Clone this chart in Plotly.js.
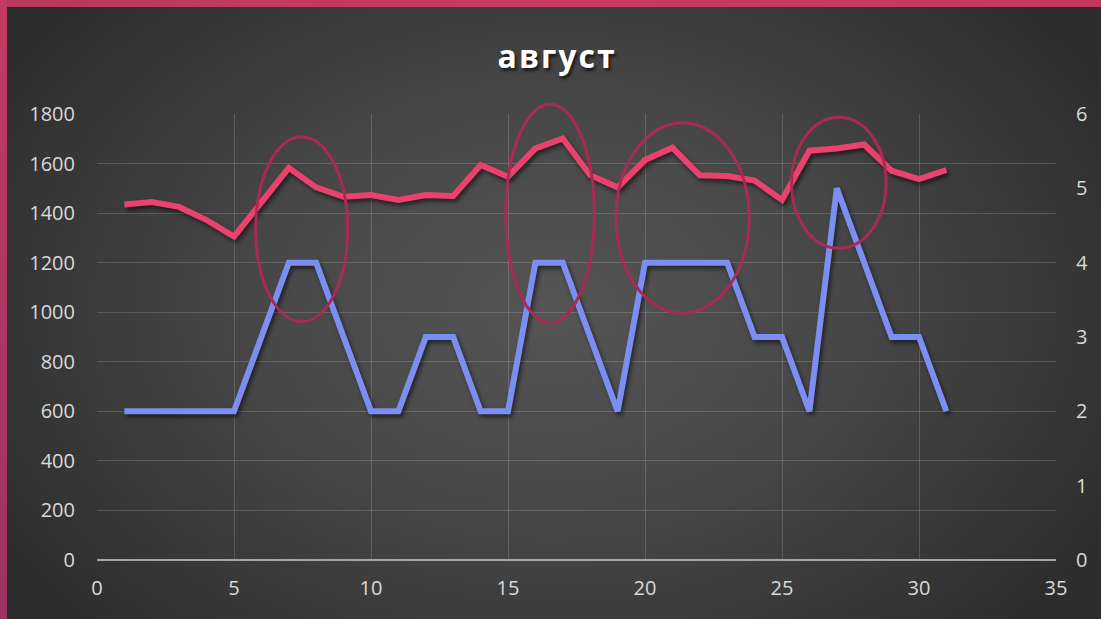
<!DOCTYPE html>
<html>
<head>
<meta charset="utf-8">
<script src="https://cdn.plot.ly/plotly-3.0.1.min.js"></script>
<style>
  html, body { margin: 0; padding: 0; }
  body {
    width: 1101px; height: 619px; overflow: hidden; position: relative;
    background: radial-gradient(ellipse 60% 75% at 50% 50%, #555555 0%, #474747 45%, #2c2c2c 100%);
  }
  #plot { position: absolute; left: 0; top: 0; width: 1101px; height: 619px; }
  .frame-top { position: absolute; left: 0; top: 0; width: 1101px; height: 7px; background: linear-gradient(90deg, #b8385f, #c93b66 50%, #c2375f); }
  .frame-left { position: absolute; left: 0; top: 0; width: 7px; height: 619px; background: linear-gradient(180deg, #c23a63, #9c3362); }
  .js-line { filter: drop-shadow(2px 3px 2px rgba(0,0,0,0.55)); }
  .gtitle { text-shadow: 2px 3px 3px rgba(0,0,0,0.6); letter-spacing: 2px; }
</style>
</head>
<body>
<div id="plot"></div>
<div class="frame-top"></div>
<div class="frame-left"></div>
<script>
// days of August
var days = [];
for (var d = 1; d <= 31; d++) days.push(d);

// left axis series (pink)
var pinkValues = [1435, 1445, 1425, 1372, 1305, 1440, 1583, 1504, 1466, 1473,
                  1453, 1473, 1469, 1594, 1547, 1661, 1701, 1553, 1504, 1614,
                  1664, 1553, 1550, 1531, 1453, 1652, 1661, 1677, 1571, 1537, 1574];

// right axis series (blue)
var blueValues = [2, 2, 2, 2, 2, 3, 4, 4, 3, 2,
                  2, 3, 3, 2, 2, 4, 4, 3, 2, 4,
                  4, 4, 4, 3, 3, 2, 5, 4, 3, 3, 2];

// highlight ellipses (in x / left-y units)
var ellipseX0 = [5.79, 14.92, 18.94, 25.35];
var ellipseX1 = [9.15, 18.15, 23.80, 28.80];
var ellipseY0 = [962, 958, 996, 1258];
var ellipseY1 = [1708, 1839, 1765, 1787];

var xRange = [0, 35];
var yRange = [0, 1800];

var tickFont = {family: "Open Sans, sans-serif", size: 20, color: "#d9d9d9"};

var trace1 = {
  x: days,
  y: pinkValues,
  type: "scatter",
  mode: "lines",
  line: {color: "#e9426f", width: 6},
  yaxis: "y",
  hoverinfo: "none"
};

var trace2 = {
  x: days,
  y: blueValues,
  type: "scatter",
  mode: "lines",
  line: {color: "#7b8ff2", width: 6},
  yaxis: "y2",
  hoverinfo: "none"
};

// paper refs so the ellipse that pokes above the top isn't clipped
function px(v) { return (v - xRange[0]) / (xRange[1] - xRange[0]); }
function py(v) { return (v - yRange[0]) / (yRange[1] - yRange[0]); }

var shapes = ellipseX0.map(function(x0, i) {
  return {
    type: "circle", xref: "paper", yref: "paper",
    x0: px(x0), x1: px(ellipseX1[i]), y0: py(ellipseY0[i]), y1: py(ellipseY1[i]),
    line: {color: "#a92a52", width: 3},
    fillcolor: "rgba(0,0,0,0)"
  };
});

var layout = {
  width: 1101,
  height: 619,
  paper_bgcolor: "rgba(0,0,0,0)",
  plot_bgcolor: "rgba(0,0,0,0)",
  margin: {l: 97, r: 45, t: 114, b: 59},
  showlegend: false,
  title: {
    text: "<b>август</b>",
    font: {family: "Open Sans, sans-serif", size: 32, color: "#ffffff"},
    x: 0.506, xref: "container", xanchor: "center",
    y: 0.908, yref: "container", yanchor: "middle"
  },
  xaxis: {
    range: xRange,
    dtick: 5,
    tick0: 0,
    showgrid: true,
    gridcolor: "rgba(255,255,255,0.16)",
    gridwidth: 1,
    zeroline: false,
    showline: false,
    ticks: "",
    tickfont: tickFont,
    ticklabelstandoff: 14
  },
  yaxis: {
    range: yRange,
    dtick: 200,
    showgrid: true,
    gridcolor: "rgba(255,255,255,0.16)",
    gridwidth: 1,
    zeroline: true,
    zerolinecolor: "#a6a6a6",
    zerolinewidth: 2,
    ticks: "",
    tickfont: tickFont,
    ticklabelstandoff: 21
  },
  yaxis2: {
    range: [0, 6],
    dtick: 1,
    overlaying: "y",
    side: "right",
    showgrid: false,
    zeroline: false,
    ticks: "",
    tickfont: tickFont,
    ticklabelstandoff: 19
  },
  shapes: shapes
};

Plotly.newPlot("plot", [trace1, trace2], layout, {staticPlot: true});
</script>
</body>
</html>
